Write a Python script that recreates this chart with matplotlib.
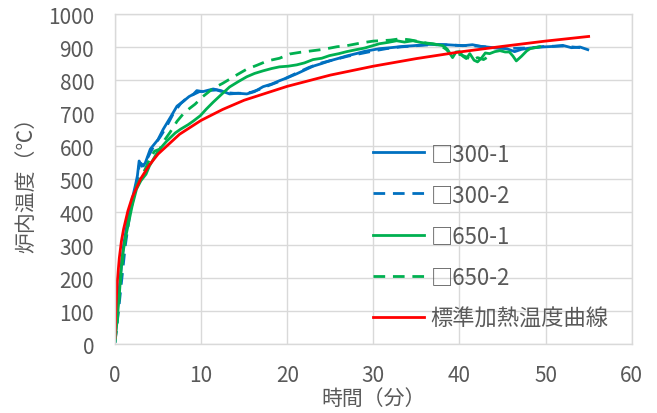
import matplotlib
matplotlib.use("Agg")
import matplotlib.pyplot as plt

# 試験体 □300-1
t_300_1 = [0, 0.3, 0.6, 1.0, 1.5, 2.0, 2.4, 2.6, 2.8, 3.1, 3.5, 4.1, 5.0, 5.6, 6.5, 7.2, 8.0, 8.6,
           9.1, 9.5, 10.2, 11.4, 12.3, 13.3, 14.3, 15.3, 16.2, 17.2, 18.2, 19.1, 20.1, 21.1, 22.0,
           23.0, 24.0, 24.9, 26.0, 26.9, 28.0, 29.0, 30.7, 32.0, 33.5, 34.6, 36.5, 38.5, 40.4, 41.5,
           42.5, 44.3, 45.5, 46.4, 47.2, 48.2, 49.5, 51.0, 52.0, 53.0, 54.0, 54.9]
T_300_1 = [10, 110, 200, 300, 380, 440, 485, 510, 555, 539, 548, 591, 620, 651, 690, 721, 737, 750,
           757, 768, 765, 773, 768, 758, 760, 758, 765, 780, 788, 798, 808, 819, 830,
           842, 850, 858, 866, 873, 880, 887, 895, 898, 902, 904, 908, 907, 904, 907,
           902, 897, 895, 886, 893, 897, 900, 902, 905, 898, 900, 892]

# 試験体 □300-2
t_300_2 = [0, 0.4, 0.8, 1.2, 1.7, 2.2, 2.6, 2.8, 3.0, 3.3, 3.8, 4.5, 5.3, 6.0, 6.8, 7.6, 8.3, 9.0,
           9.8, 10.8, 11.8, 12.8, 13.8, 14.8, 15.8, 16.8, 17.8, 18.8, 19.8, 21.0, 22.5, 24.0, 25.5,
           27.0, 28.5, 30.0, 31.5, 33.0, 34.5, 36.0, 38.0, 40.0, 42.0, 44.0, 46.0, 48.0, 50.0, 52.0, 54.0]
T_300_2 = [5, 100, 200, 300, 390, 450, 500, 540, 548, 540, 565, 600, 630, 660, 700, 728, 745, 755,
           765, 768, 770, 762, 760, 760, 763, 772, 783, 793, 805, 820, 838, 852, 862,
           872, 880, 888, 895, 900, 903, 906, 907, 905, 903, 898, 896, 897, 902, 903, 898]

# 試験体 □650-1
t_650_1 = [0, 0.2, 0.5, 0.8, 1.2, 1.5, 2.0, 2.5, 3.0, 3.3, 3.6, 4.0, 5.0, 6.0, 7.0, 7.6, 8.5, 9.1,
           9.9, 10.6, 11.4, 12.3, 13.3, 14.3, 15.3, 16.2, 17.2, 18.2, 19.1, 20.1, 21.1, 22.0, 23.0,
           24.0, 24.9, 26.0, 26.9, 28.0, 29.0, 30.7, 31.7, 32.7, 33.6, 34.6, 35.5, 36.5, 37.3, 38.1,
           38.6, 38.9, 39.2, 39.6, 40.0, 40.4, 40.8, 41.2, 41.7, 42.1, 42.6, 43.0, 43.5, 44.1, 44.7,
           45.3, 45.8, 46.2, 46.6, 47.2, 47.8, 48.2, 48.8, 49.3]
T_650_1 = [10, 60, 150, 258, 320, 358, 420, 470, 495, 505, 515, 540, 585, 615, 640, 651, 665, 676,
           692, 712, 733, 755, 779, 795, 810, 820, 828, 835, 840, 842, 846, 852, 862,
           866, 874, 880, 886, 892, 897, 910, 914, 919, 915, 919, 914, 910, 908, 904,
           893, 880, 868, 885, 886, 872, 865, 880, 860, 855, 868, 882, 880, 886, 889,
           885, 885, 873, 858, 872, 888, 895, 898, 901]

# 試験体 □650-2
t_650_2 = [0, 0.3, 0.6, 1.0, 1.5, 2.0, 2.5, 3.0, 3.5, 4.0, 4.6, 5.2, 5.8, 6.4, 7.2, 8.0, 8.7, 9.3,
           10.2, 11.4, 12.5, 13.4, 14.3, 15.3, 16.5, 17.7, 19.1, 20.3, 21.5, 23.0, 24.2, 25.8, 26.9,
           28.5, 30.0, 30.8, 32.0, 33.1, 34.2, 35.4, 36.2, 36.9, 37.8, 38.5, 39.2, 40.0, 40.8, 41.5,
           42.1, 42.8, 43.3]
T_650_2 = [5, 80, 180, 280, 370, 430, 480, 505, 530, 560, 585, 591, 620, 642, 675, 700, 715, 727,
           750, 775, 790, 804, 818, 833, 845, 858, 866, 879, 884, 889, 893, 901, 904,
           912, 918, 919, 921, 925, 922, 916, 912, 910, 905, 892, 872, 878, 870, 860,
           868, 862, 870]

# 標準加熱温度曲線
t_std = [0, 0.1, 0.25, 0.5, 0.75, 1, 1.5, 2, 3, 4, 5, 7.5, 10, 12.5, 15, 20, 25, 30, 35, 40, 45, 50, 55]
T_std = [20, 108, 185, 261, 313, 349, 404, 445, 502, 543, 576, 636, 678, 711, 739, 781, 815, 842,
         865, 885, 902, 918, 932]

plt.rcParams['font.family'] = ['Noto Sans CJK JP', 'DejaVu Sans']
text_color = '#595959'
grid_color = '#d9d9d9'

fig = plt.figure(figsize=(6.57, 4.14), dpi=100)
ax = fig.add_axes([115 / 657, 1 - 345.3 / 414, (631.7 - 115) / 657, (345.3 - 15) / 414])

lw = 2.0
dash = (0, (4.2, 2.8))
ax.plot(t_300_1, T_300_1, color='#0070C0', lw=lw, label='□300-1')
ax.plot(t_300_2, T_300_2, color='#0070C0', lw=lw, ls=dash, label='□300-2')
ax.plot(t_650_1, T_650_1, color='#00B050', lw=lw, label='□650-1')
ax.plot(t_650_2, T_650_2, color='#00B050', lw=lw, ls=dash, label='□650-2')
ax.plot(t_std, T_std, color='#FF0000', lw=lw, label='標準加熱温度曲線')

ax.set_xlim(0, 60)
ax.set_ylim(0, 1000)
ax.set_xticks(range(0, 61, 10))
ax.set_yticks(range(0, 1001, 100))
ax.grid(True, color=grid_color, lw=1.0)
ax.set_axisbelow(True)
for s in ax.spines.values():
    s.set_color(grid_color)
    s.set_linewidth(1.0)
ax.tick_params(length=0, labelsize=15, colors=text_color)
ax.tick_params(axis='x', pad=14)
ax.tick_params(axis='y', pad=15)

ax.set_xlabel('時間（分）', fontsize=15, color=text_color, labelpad=1)
ax.set_ylabel('炉内温度（℃）', fontsize=15, color=text_color, labelpad=8)

leg = ax.legend(loc='upper left', bbox_to_anchor=(373 / 657, 1 - 143 / 414),
                bbox_transform=fig.transFigure, frameon=False, fontsize=16,
                handlelength=2.3, handletextpad=0.3, labelspacing=0.82, borderpad=0,
                borderaxespad=0)
for txt in leg.get_texts():
    txt.set_color(text_color)

fig.savefig('out.png', dpi=100)
